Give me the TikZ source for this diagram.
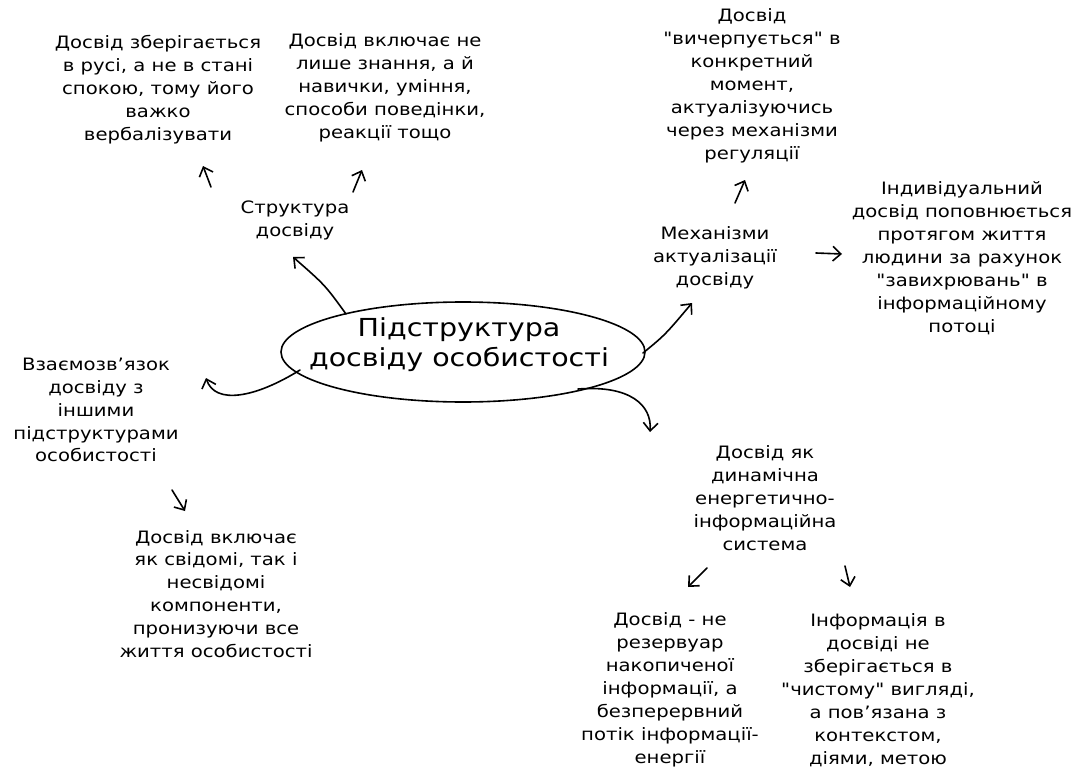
\documentclass[tikz,border=0pt]{standalone}
\usepackage{fontspec}
\setmainfont{DejaVu Sans}[Ligatures=TeXOff, FakeStretch=1.15]
\usetikzlibrary{arrows.meta}

\tikzstyle{txt} = [align=center, inner sep=0pt, font=\fontsize{12.8}{17.2}\selectfont]
\tikzstyle{core} = [align=center, inner sep=0pt, font=\fontsize{18.6}{22.5}\selectfont]
\tikzstyle{arr} = [-{Straight Barb[length=6pt,width=11pt]}, line width=1.2pt, line cap=round]

\begin{document}
\begin{tikzpicture}[x=0.75pt,y=-0.75pt]
\useasboundingbox (0,0) rectangle (1079,767);

\node [core] (sub) at (459,345) {Підструктура\\досвіду особистості};
\draw [line width=1.2pt] (463,352) ellipse [x radius=182, y radius=50];

\node [txt] (keep) at (158,90) {Досвід зберігається\\в русі, а не в стані\\спокою, тому його\\важко\\вербалізувати};
\node [txt] (incl) at (385,88) {Досвід включає не\\лише знання, а й\\навички, уміння,\\способи поведінки,\\реакції тощо};
\node [txt] (struct) at (295,220) {Структура\\досвіду};

\node [txt] (exh) at (752,86) {Досвід\\"вичерпується" в\\конкретний\\момент,\\актуалізуючись\\через механізми\\регуляції};
\node [txt] (mech) at (715,258) {Механізми\\актуалізації\\досвіду};
\node [txt] (indiv) at (962,258) {Індивідуальний\\досвід поповнюється\\протягом життя\\людини за рахунок\\"завихрювань" в\\інформаційному\\потоці};

\node [txt] (link) at (96,410) {Взаємозв’язок\\досвіду з\\іншими\\підструктурами\\особистості};
\node [txt] (consc) at (216,594) {Досвід включає\\як свідомі, так і\\несвідомі\\компоненти,\\пронизуючи все\\життя особистості};

\node [txt] (dyn) at (765,498) {Досвід як\\динамічна\\енергетично-\\інформаційна\\система};
\node [txt] (res) at (670,690) {Досвід - не\\резервуар\\накопиченої\\інформації, а\\безперервний\\потік інформації-\\енергії};
\node [txt] (info) at (878,690) {Інформація в\\досвіді не\\зберігається в\\"чистому" вигляді,\\а пов’язана з\\контекстом,\\діями, метою};

% points on the ellipse
\coordinate (o1) at (346,314);
\coordinate (o2) at (300,370);
\coordinate (o3) at (578,389);
\coordinate (o4) at (643,353);
% free ends of the arrows
\coordinate (e1) at (293,257);
\coordinate (e2) at (206,378);
\coordinate (e3) at (650,432);
\coordinate (e4) at (692,303);
\coordinate (s1) at (211,187);
\coordinate (t1) at (203,166);
\coordinate (s2) at (353,192);
\coordinate (t2) at (362,170);
\coordinate (s3) at (735,203);
\coordinate (t3) at (745,180);
\coordinate (s4) at (816,253);
\coordinate (t4) at (842,254);
\coordinate (s5) at (172,490);
\coordinate (t5) at (185,511);
\coordinate (s6) at (707,568);
\coordinate (t6) at (688,587);
\coordinate (s7) at (845,566);
\coordinate (t7) at (850,587);

% from the ellipse
\draw [arr] (o1) .. controls (325,285) .. (e1);
\draw [arr] (o2) .. controls (255,398) and (215,405) .. (e2);
\draw [arr] (o3) .. controls (630,385) and (652,405) .. (e3);
\draw [arr] (o4) .. controls (665,335) .. (e4);

% short ones
\draw [arr] (s1) -- (t1);
\draw [arr] (s2) -- (t2);
\draw [arr] (s3) -- (t3);
\draw [arr] (s4) -- (t4);
\draw [arr] (s5) -- (t5);
\draw [arr] (s6) -- (t6);
\draw [arr] (s7) -- (t7);
\end{tikzpicture}
\end{document}
